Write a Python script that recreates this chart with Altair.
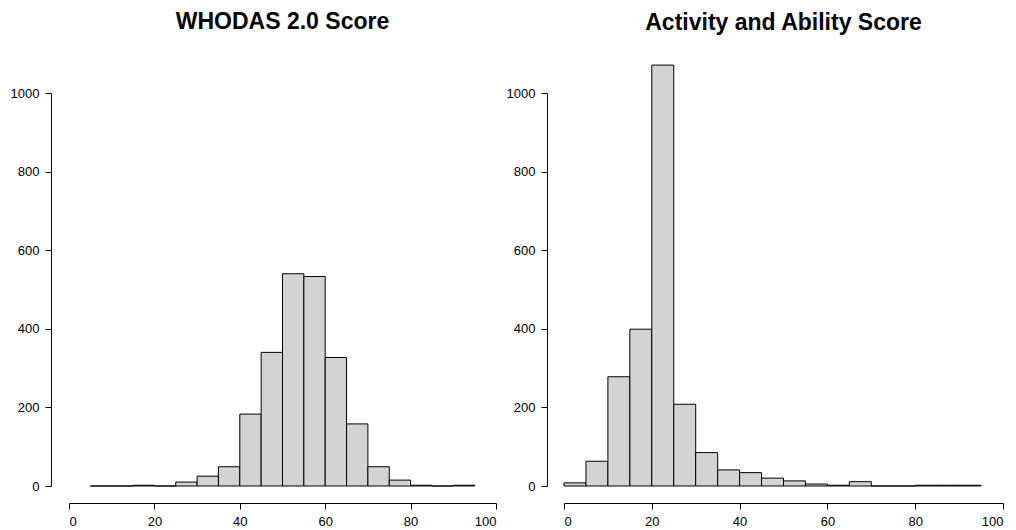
import altair as alt
import pandas as pd

# WHODAS 2.0 Score histogram (bins of width 5, starting at 5)
who_bin_start = [5, 10, 15, 20, 25, 30, 35, 40, 45, 50, 55, 60, 65, 70, 75, 80, 85, 90]
who_counts = [0, 0, 2, 0, 10, 25, 49, 183, 340, 540, 533, 327, 158, 49, 15, 2, 0, 2]

# Activity and Ability Score histogram (bins of width 5, starting at 0)
act_bin_start = [0, 5, 10, 15, 20, 25, 30, 35, 40, 45, 50, 55, 60, 65, 70, 75, 80, 85, 90]
act_counts = [8, 63, 278, 399, 1071, 208, 85, 41, 34, 20, 13, 5, 2, 11, 0, 0, 2, 2, 2]

bin_width = 5
x_ticks = [0, 20, 40, 60, 80, 100]
y_ticks = [0, 200, 400, 600, 800, 1000]

FONT = "Liberation Sans"


def panel(starts, counts, title, width, y_offset, title_offset):
    df = pd.DataFrame({
        "start": starts,
        "end": [s + bin_width for s in starts],
        "count": counts,
    })
    axis_common = dict(
        title=None, grid=False, tickSize=6, tickColor="black", tickWidth=1,
        domainColor="black", domainWidth=1, labelFont=FONT, labelFontSize=13,
        labelColor="black", labelPadding=6,
    )
    return alt.Chart(df).mark_rect(
        fill="#D3D3D3", stroke="black", strokeWidth=1
    ).encode(
        x=alt.X("start:Q", scale=alt.Scale(domain=[0, 100], nice=False, zero=False),
                axis=alt.Axis(values=x_ticks, offset=17, format="d", **axis_common)),
        x2="end:Q",
        y=alt.Y("count:Q", scale=alt.Scale(domain=[0, 1000], nice=False),
                axis=alt.Axis(values=y_ticks, offset=y_offset, format="d", **axis_common)),
        y2=alt.datum(0),
    ).properties(
        width=width, height=393,
        title=alt.Title(title, font=FONT, fontSize=23, fontWeight="bold", color="black",
                        anchor="middle", baseline="alphabetic", offset=title_offset),
    )


left = panel(who_bin_start, who_counts, "WHODAS 2.0 Score", 427, 18, 35)
right = panel(act_bin_start, act_counts, "Activity and Ability Score", 439, 17, 12)

chart = alt.hconcat(left, right, spacing=68, bounds="flush").properties(
    padding={"left": 10, "top": 11, "right": 0, "bottom": 0},
    background="white",
).configure_view(stroke=None)

chart.save("out.html", embed_options={"renderer": "svg", "actions": False})
